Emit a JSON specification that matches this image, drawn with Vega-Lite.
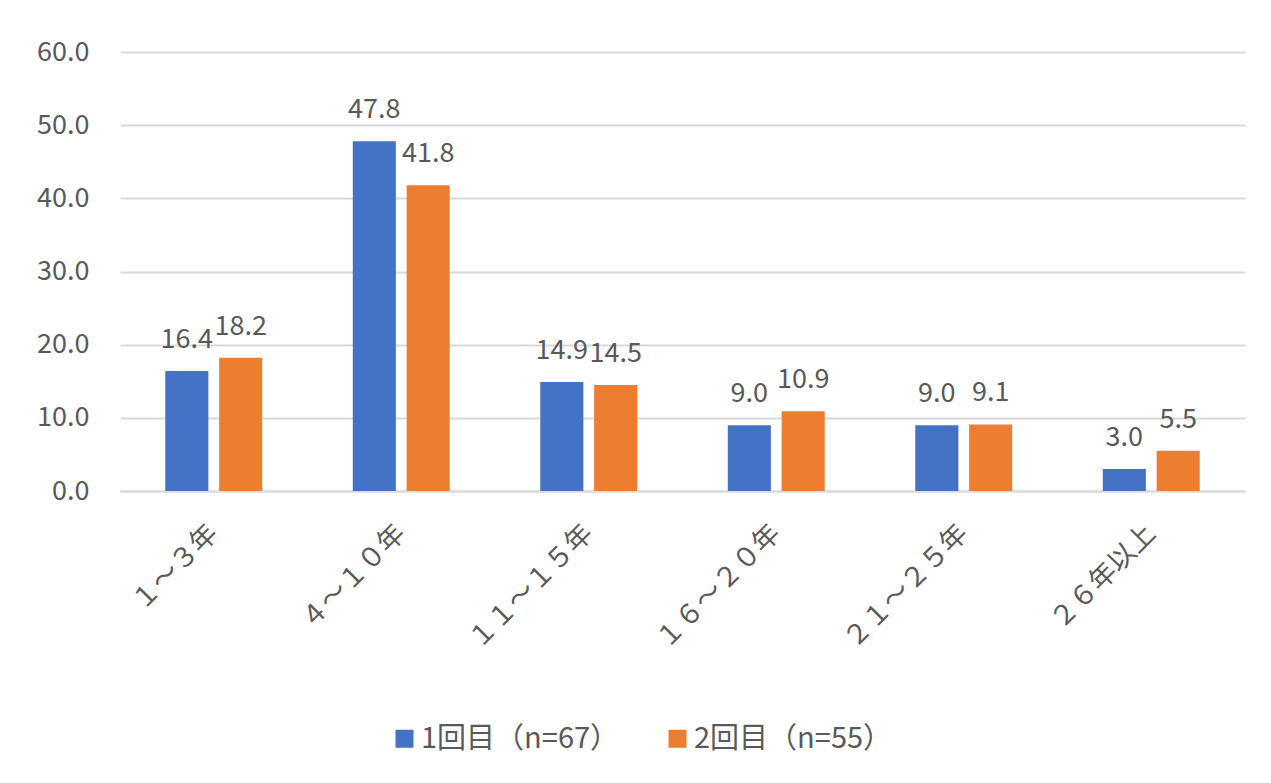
{
  "$schema": "https://vega.github.io/schema/vega-lite/v6.json",
  "autosize": "none",
  "width": 1125,
  "height": 439,
  "padding": {"left": 120, "top": 52, "right": 26, "bottom": 292},
  "background": "white",
  "data": {
    "values": [
      {"cat": "１～３年", "series": "1回目（n=67）", "value": 16.4},
      {"cat": "１～３年", "series": "2回目（n=55）", "value": 18.2},
      {"cat": "４～１０年", "series": "1回目（n=67）", "value": 47.8},
      {"cat": "４～１０年", "series": "2回目（n=55）", "value": 41.8},
      {"cat": "１１～１５年", "series": "1回目（n=67）", "value": 14.9},
      {"cat": "１１～１５年", "series": "2回目（n=55）", "value": 14.5},
      {"cat": "１６～２０年", "series": "1回目（n=67）", "value": 9.0},
      {"cat": "１６～２０年", "series": "2回目（n=55）", "value": 10.9},
      {"cat": "２１～２５年", "series": "1回目（n=67）", "value": 9.0},
      {"cat": "２１～２５年", "series": "2回目（n=55）", "value": 9.1},
      {"cat": "２６年以上", "series": "1回目（n=67）", "value": 3.0},
      {"cat": "２６年以上", "series": "2回目（n=55）", "value": 5.5}
    ]
  },
  "encoding": {
    "x": {
      "field": "cat",
      "type": "nominal",
      "sort": null,
      "title": null,
      "scale": {"paddingInner": 0.483, "paddingOuter": 0.2415},
      "axis": {
        "labelAngle": -45,
        "labelAlign": "right",
        "labelBaseline": "middle",
        "labelPadding": 38,
        "labelDx": -12,
        "labelFontSize": 27,
        "labelColor": "#595959",
        "ticks": false,
        "domain": true,
        "domainColor": "#d9d9d9",
        "domainWidth": 2,
        "grid": false
      }
    },
    "xOffset": {
      "field": "series",
      "type": "nominal",
      "scale": {"paddingInner": 0.2, "paddingOuter": 0}
    },
    "y": {
      "field": "value",
      "type": "quantitative",
      "title": null,
      "scale": {"domain": [0, 60]},
      "axis": {
        "values": [0, 10, 20, 30, 40, 50, 60],
        "format": ".1f",
        "labelFontSize": 27,
        "labelColor": "#595959",
        "labelPadding": 31,
        "ticks": false,
        "domain": false,
        "grid": true,
        "gridColor": "#d9d9d9",
        "gridWidth": 2
      }
    }
  },
  "layer": [
    {
      "mark": {"type": "bar"},
      "encoding": {
        "color": {
          "field": "series",
          "type": "nominal",
          "scale": {
            "domain": ["1回目（n=67）", "2回目（n=55）"],
            "range": ["#4472C4", "#ED7D31"]
          },
          "legend": {
            "title": null,
            "orient": "none",
            "direction": "horizontal",
            "legendX": 270,
            "legendY": 672,
            "symbolType": "square",
            "symbolSize": 324,
            "symbolStrokeWidth": 0,
            "labelFontSize": 29,
            "labelColor": "#595959",
            "labelOffset": 2,
            "labelLimit": 0,
            "columnPadding": 43,
            "padding": 0
          }
        }
      }
    },
    {
      "mark": {
        "type": "text",
        "baseline": "alphabetic",
        "dy": -23,
        "fontSize": 27,
        "color": "#595959"
      },
      "encoding": {
        "text": {"field": "value", "type": "quantitative", "format": ".1f"}
      }
    }
  ],
  "config": {
    "font": "Noto Sans CJK JP",
    "view": {"stroke": null}
  }
}
